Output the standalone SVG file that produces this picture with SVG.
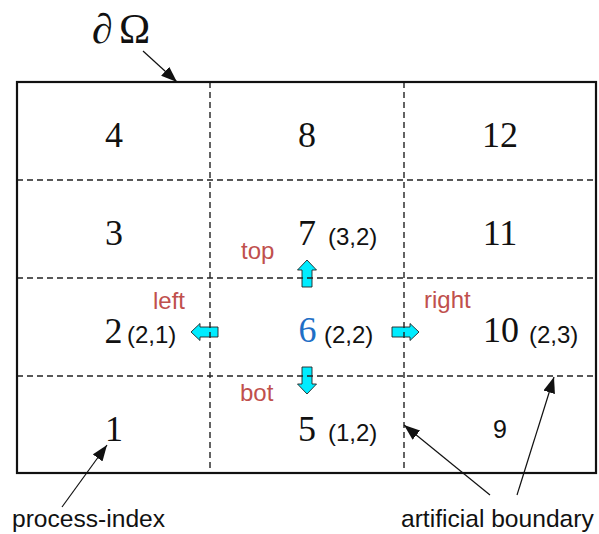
<svg xmlns="http://www.w3.org/2000/svg" width="599" height="534" viewBox="0 0 599 534">
<style>
.serif{font-family:"Liberation Serif","Times New Roman",serif;font-size:36px;fill:#111;text-anchor:middle}
.sans{font-family:"Liberation Sans",Arial,sans-serif;font-size:24px;fill:#111}
.red{font-family:"Liberation Sans",Arial,sans-serif;font-size:24px;fill:#c0504d}
.dash{stroke:#222;stroke-width:1.4;stroke-dasharray:6 4;fill:none}
.ann{stroke:#111;stroke-width:1.2;fill:none}
.cy{fill:#00ecff;stroke:#222;stroke-width:0.9}
</style>
<defs>
<marker id="ah" viewBox="0 0 16 12" refX="16" refY="6" markerWidth="16" markerHeight="12" markerUnits="userSpaceOnUse" orient="auto">
<path d="M0,0 L16,6 L0,12 Z" fill="#111"/>
</marker>
</defs>
<rect width="599" height="534" fill="#fff"/>
<g id="arrows-cyan">
<path class="cy" d="M307,260 L316.5,270 L312,270 L312,287 L302,287 L302,270 L297.5,270 Z"/>
<path class="cy" d="M307,394 L316.5,384 L312,384 L312,367 L302,367 L302,384 L297.5,384 Z"/>
<path class="cy" d="M191,332 L200,323.5 L200,327 L218,327 L218,337 L200,337 L200,340.5 Z"/>
<path class="cy" d="M419,332 L410,323.5 L410,327 L392,327 L392,337 L410,337 L410,340.5 Z"/>
</g>
<g id="grid">
<line class="dash" x1="210" y1="82" x2="210" y2="473"/>
<line class="dash" x1="404" y1="82" x2="404" y2="473"/>
<line class="dash" x1="17" y1="180" x2="596" y2="180"/>
<line class="dash" x1="17" y1="278" x2="596" y2="278"/>
<line class="dash" x1="17" y1="376" x2="596" y2="376"/>
<rect x="17" y="82" width="579" height="391" fill="none" stroke="#111" stroke-width="2.2"/>
</g>
<g id="cells">
<text class="serif" x="114" y="147">4</text>
<text class="serif" x="307" y="147">8</text>
<text class="serif" x="500" y="147">12</text>
<text class="serif" x="114" y="245">3</text>
<text class="serif" x="307" y="245">7</text>
<text class="sans" x="328" y="245">(3,2)</text>
<text class="serif" x="500" y="245">11</text>
<text class="serif" x="113.5" y="343">2</text>
<text class="sans" x="127" y="343">(2,1)</text>
<text class="serif" x="307.5" y="342" style="fill:#1f6fc6">6</text>
<text class="sans" x="324" y="343">(2,2)</text>
<text class="serif" x="501" y="342">10</text>
<text class="sans" x="529" y="343">(2,3)</text>
<text class="serif" x="114" y="441">1</text>
<text class="serif" x="307" y="441">5</text>
<text class="sans" x="328" y="441">(1,2)</text>
<text class="sans" x="500" y="438" style="text-anchor:middle;font-size:25px">9</text>
</g>
<g id="labels">
<text class="red" x="241" y="259">top</text>
<text class="red" x="153" y="309">left</text>
<text class="red" x="424" y="308">right</text>
<text class="red" x="240" y="401">bot</text>
<text x="92" y="43" style="font-family:'Liberation Serif',serif;font-size:42px;font-style:italic;fill:#111">∂</text>
<text x="119" y="43" style="font-family:'Liberation Serif',serif;font-size:42px;fill:#111">Ω</text>
<text class="sans" x="12" y="527" style="font-size:24.6px">process-index</text>
<text class="sans" x="401" y="527" style="font-size:24.6px">artificial boundary</text>
</g>
<g id="connectors">
<line class="ann" x1="143" y1="51" x2="177" y2="82" marker-end="url(#ah)"/>
<line class="ann" x1="62" y1="507" x2="107" y2="445" marker-end="url(#ah)"/>
<line class="ann" x1="490" y1="495" x2="404" y2="425" marker-end="url(#ah)"/>
<line class="ann" x1="517" y1="495" x2="554" y2="377" marker-end="url(#ah)"/>
</g>
</svg>
